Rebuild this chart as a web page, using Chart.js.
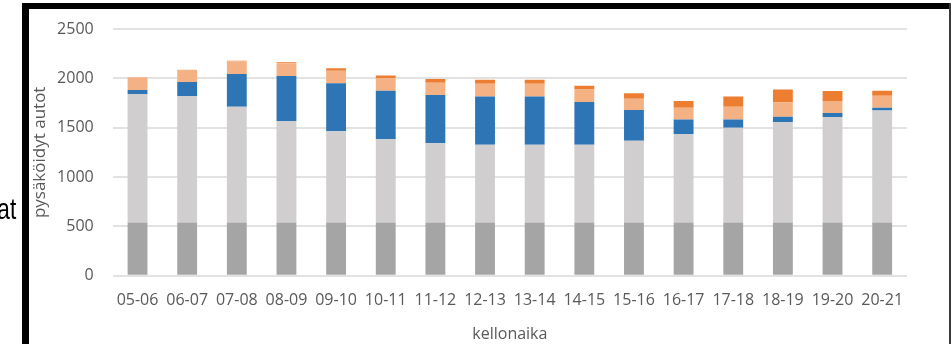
<!DOCTYPE html>
<html>
<head>
<meta charset="utf-8">
<script src="https://cdn.jsdelivr.net/npm/chart.js@4.4.1/dist/chart.umd.min.js"></script>
<style>
  html, body { margin: 0; padding: 0; background: #ffffff; }
  #wrap { position: relative; width: 951px; height: 344px; overflow: hidden; background: #ffffff; }
  #chart { position: absolute; left: 0; top: 0; }
  .frame { position: absolute; }
  #frameLeft { left: 22px; top: 3px; width: 7px; height: 341px; background: #000000; }
  #frameTop { left: 22px; top: 3px; width: 929px; height: 6px; background: #000000; }
  #frameRight { left: 949px; top: 3px; width: 2px; height: 341px; background: #3a3a3a; }
  #sideText {
    position: absolute; right: 935px; top: 192px;
    font-family: "Liberation Sans Narrow", "Liberation Sans", Arial, sans-serif;
    font-size: 29px; line-height: 34px; color: #000000;
    transform: scaleX(0.78); transform-origin: right center; white-space: nowrap;
  }
</style>
</head>
<body>
<div id="wrap">
  <canvas id="chart" width="951" height="344"></canvas>
  <div id="sideText">at</div>
  <div class="frame" id="frameTop"></div>
  <div class="frame" id="frameLeft"></div>
  <div class="frame" id="frameRight"></div>
</div>
<script>
// Hourly periods
const categories = ['05-06', '06-07', '07-08', '08-09', '09-10', '10-11', '11-12', '12-13',
                    '13-14', '14-15', '15-16', '16-17', '17-18', '18-19', '19-20', '20-21'];

// Stacked parked-car counts per period, bottom to top
const seriesBase      = [540, 540, 540, 540, 540, 540, 540, 540, 540, 540, 540, 540, 540, 540, 540, 540];
const seriesLightGray = [1301, 1280, 1172, 1027, 923, 842, 801, 787, 787, 787, 828, 895, 959, 1014, 1068, 1135];
const seriesBlue      = [40, 142, 331, 456, 486, 492, 489, 490, 490, 433, 311, 149, 85, 57, 40, 27];
const seriesPeach     = [129, 125, 129, 129, 128, 126, 125, 128, 128, 128, 114, 118, 128, 146, 122, 121];
const seriesOrange    = [0, 0, 5, 10, 24, 30, 38, 41, 41, 37, 55, 68, 105, 131, 101, 51];

// Y axis ticks
const yTicks = [0, 500, 1000, 1500, 2000, 2500];

const textColor = '#595959';
const baseFont = { family: '"Open Sans", "Noto Sans", sans-serif', size: 16 };
const yTitleFont = { family: '"Open Sans", "Noto Sans", sans-serif', size: 17 };

function ds(label, data, color) {
  return {
    label: label,
    data: data,
    backgroundColor: color,
    borderWidth: 0,
    categoryPercentage: 0.8,
    barPercentage: 0.5
  };
}

new Chart(document.getElementById('chart'), {
  type: 'bar',
  data: {
    labels: categories,
    datasets: [
      ds('perus', seriesBase, '#a5a5a5'),
      ds('muut', seriesLightGray, '#d0cece'),
      ds('työ', seriesBlue, '#2e75b6'),
      ds('asiointi', seriesPeach, '#f4b183'),
      ds('ilta', seriesOrange, '#ed7d31')
    ]
  },
  options: {
    responsive: false,
    animation: false,
    devicePixelRatio: 1,
    layout: { padding: { left: 30, top: 29, right: 44, bottom: 0 } },
    plugins: {
      legend: { display: false },
      tooltip: { enabled: false }
    },
    scales: {
      x: {
        stacked: true,
        grid: { display: false, drawTicks: false },
        border: { display: false },
        ticks: {
          color: textColor,
          font: baseFont,
          padding: 15,
          autoSkip: false,
          maxRotation: 0,
          minRotation: 0
        },
        title: {
          display: true,
          text: 'kellonaika',
          color: textColor,
          font: baseFont,
          padding: { top: 4, bottom: 0 }
        },
        afterFit: function (scale) { scale.height = 68.3; }
      },
      y: {
        stacked: true,
        min: 0,
        max: 2500,
        afterBuildTicks: function (scale) {
          scale.ticks = yTicks.map(function (v) { return { value: v }; });
        },
        grid: { color: '#e2e2e2', lineWidth: 2, drawTicks: false },
        border: { display: false },
        ticks: {
          color: textColor,
          font: baseFont,
          padding: 19,
          callback: function (value) { return String(value); }
        },
        title: {
          display: true,
          text: 'pysäköidyt autot',
          color: textColor,
          font: yTitleFont,
          padding: { top: 0, bottom: 0 }
        },
        afterFit: function (scale) { scale.width = 82.7; }
      }
    }
  }
});
</script>
</body>
</html>
